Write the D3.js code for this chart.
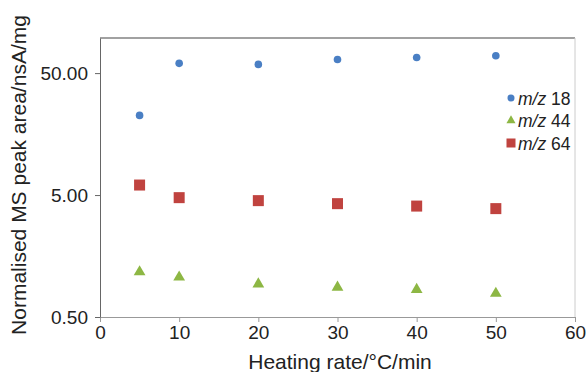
<!DOCTYPE html>
<html>
<head>
<meta charset="utf-8">
<script src="https://cdn.jsdelivr.net/npm/d3@7"></script>
<style>
  html, body { margin: 0; padding: 0; background: #fff; }
  svg { display: block; font-family: "Liberation Sans", Arial, sans-serif; }
</style>
</head>
<body>
<svg id="chart" width="588" height="372"></svg>
<script>
// heating rates (°C/min)
const rates = [5, 10, 20, 30, 40, 50];
// normalised MS peak area, nsA/mg
const mz18 = [22.5, 60.1, 58.9, 64.7, 67.2, 69.3];
const mz44 = [1.17, 1.06, 0.93, 0.875, 0.84, 0.78];
const mz64 = [6.04, 4.76, 4.5, 4.25, 4.06, 3.87];
const xTicks = [0, 10, 20, 30, 40, 50, 60];
const yTicks = [0.5, 5, 50];

const svg = d3.select('#chart');
const margin = { left: 100, top: 38, right: 13, bottom: 55 };
const width = 588 - margin.left - margin.right;
const height = 372 - margin.top - margin.bottom;

const x = d3.scaleLinear().domain([0, 60]).range([0, width]);
const y = d3.scaleLog().domain([0.5, 97]).range([height, 0]);

const g = svg.append('g').attr('transform', `translate(${margin.left},${margin.top})`);

// frame: dark top border, light right border
g.append('line').attr('x1', 0).attr('x2', width).attr('y1', 0).attr('y2', 0)
  .attr('stroke', '#444').attr('stroke-width', 1.2);
g.append('line').attr('x1', width).attr('x2', width).attr('y1', 0).attr('y2', height)
  .attr('stroke', '#ccc');

// x axis
const xAxis = g.append('g').attr('transform', `translate(0,${height})`)
  .call(d3.axisBottom(x).tickValues(xTicks).tickSize(5).tickPadding(4).tickSizeOuter(0));
xAxis.select('.domain').attr('stroke', '#999');
xAxis.selectAll('.tick line').attr('stroke', '#999');
xAxis.selectAll('text').attr('font-size', 19).attr('fill', '#222').attr('font-family', '"Liberation Sans", Arial, sans-serif');

// y axis
const yAxis = g.append('g')
  .call(d3.axisLeft(y).tickValues(yTicks).tickFormat(d3.format('.2f')).tickSize(5).tickPadding(7).tickSizeOuter(0));
yAxis.select('.domain').attr('stroke', '#666');
yAxis.selectAll('.tick line').attr('stroke', '#666');
yAxis.selectAll('text').attr('font-size', 19).attr('fill', '#222').attr('font-family', '"Liberation Sans", Arial, sans-serif');

// axis titles
svg.append('text').attr('x', 340).attr('y', 369)
  .attr('text-anchor', 'middle').attr('font-size', 21).attr('fill', '#222')
  .text('Heating rate/°C/min');
svg.append('text').attr('transform', `translate(26,${175}) rotate(-90)`)
  .attr('text-anchor', 'middle').attr('font-size', 21).attr('fill', '#222')
  .text('Normalised MS peak area/nsA/mg');

const blue = '#4a7fc4', green = '#8db744', red = '#c0433f';

// m/z 18 circles
g.selectAll('.c18').data(rates).enter().append('circle')
  .attr('cx', (d, i) => x(d)).attr('cy', (d, i) => y(mz18[i]))
  .attr('r', 3.8).attr('fill', blue);

// m/z 64 squares
g.selectAll('.s64').data(rates).enter().append('rect')
  .attr('x', (d, i) => x(d) - 5.5).attr('y', (d, i) => y(mz64[i]) - 5.5)
  .attr('width', 11).attr('height', 11).attr('fill', red);

// m/z 44 triangles
const tri = d3.symbol().type(d3.symbolTriangle).size(60);
g.selectAll('.t44').data(rates).enter().append('path')
  .attr('d', tri)
  .attr('transform', (d, i) => `translate(${x(d)},${y(mz44[i])})`)
  .attr('fill', green);

// legend
const legend = [
  { label: '18', color: blue, shape: 'circle' },
  { label: '44', color: green, shape: 'triangle' },
  { label: '64', color: red, shape: 'square' }
];
const lg = svg.append('g').attr('transform', 'translate(511,98)');
legend.forEach((item, i) => {
  const row = lg.append('g').attr('transform', `translate(0,${i * 22.5})`);
  if (item.shape === 'circle') row.append('circle').attr('r', 3.5).attr('fill', item.color);
  else if (item.shape === 'triangle') row.append('path').attr('d', d3.symbol().type(d3.symbolTriangle).size(36)).attr('fill', item.color);
  else row.append('rect').attr('x', -4.5).attr('y', -4.5).attr('width', 9).attr('height', 9).attr('fill', item.color);
  const t = row.append('text').attr('x', 7).attr('y', 6.5).attr('font-size', 17.5).attr('fill', '#222');
  t.append('tspan').attr('font-style', 'italic').text('m/z');
  t.append('tspan').text(' ' + item.label);
});
</script>
</body>
</html>
